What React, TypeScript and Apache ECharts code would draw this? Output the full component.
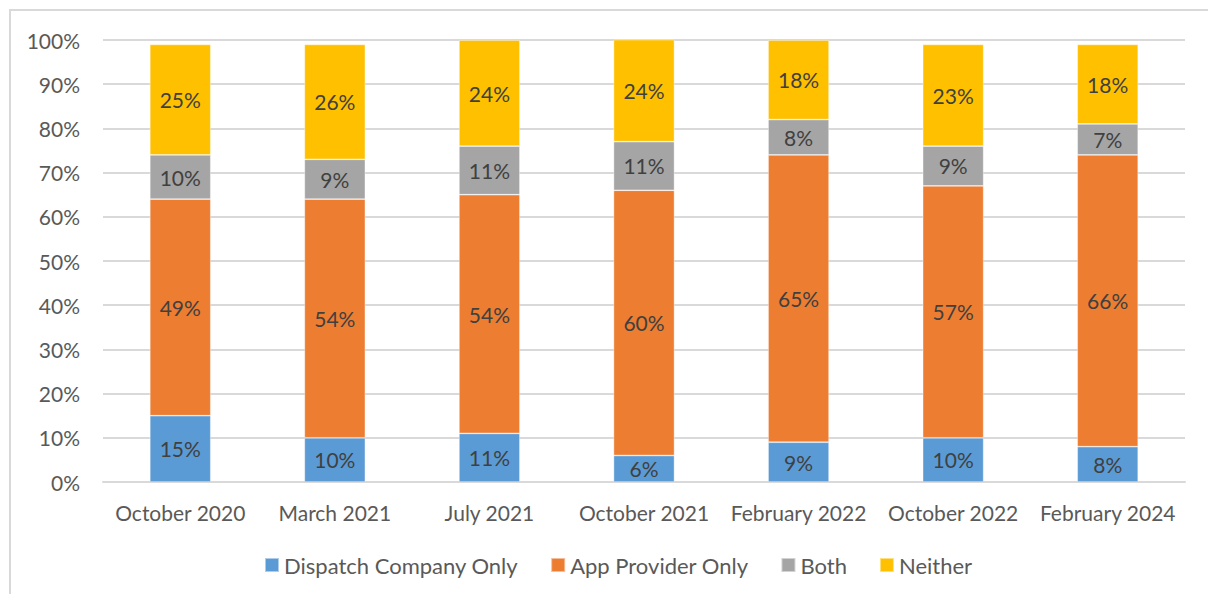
import React, { useEffect, useRef } from "react";
import * as echarts from "echarts";

const categories = ["October 2020", "March 2021", "July 2021", "October 2021", "February 2022", "October 2022", "February 2024"];
const dispatchOnly = [15, 10, 11, 6, 9, 10, 8];
const appOnly = [49, 54, 54, 60, 65, 57, 66];
const both = [10, 9, 11, 11, 8, 9, 7];
const neither = [25, 26, 24, 24, 18, 23, 18];
const seriesNames = ["Dispatch Company Only", "App Provider Only", "Both", "Neither"];
const colors = ["#5B9BD5", "#ED7D31", "#A5A5A5", "#FFC000"];
const yTicks = [0, 10, 20, 30, 40, 50, 60, 70, 80, 90, 100];

const FONT = "Lato";

export default function App() {
  const ref = useRef<HTMLDivElement>(null);
  useEffect(() => {
    if (!ref.current) return;
    const chart = echarts.init(ref.current, null, { renderer: "svg" });
    const data = [dispatchOnly, appOnly, both, neither];
    chart.setOption({
      animation: false,
      backgroundColor: "#ffffff",
      textStyle: { fontFamily: FONT },
      graphic: [
        {
          type: "rect",
          shape: { x: 10, y: 10, width: 1400, height: 800 },
          style: { fill: "none", stroke: "#d9d9d9", lineWidth: 2 },
          silent: true,
        },
      ],
      grid: { left: 103, right: 23, top: 40, bottom: 112 },
      legend: {
        left: 259,
        top: 549,
        itemWidth: 14,
        itemHeight: 14,
        itemGap: 32,
        icon: "rect",
        textStyle: { fontFamily: FONT, fontSize: 22, color: "#595959" },
        data: seriesNames,
      },
      xAxis: {
        type: "category",
        data: categories,
        axisLine: { lineStyle: { color: "#d9d9d9", width: 2 } },
        axisTick: { show: false },
        axisLabel: { fontFamily: FONT, fontSize: 21, color: "#595959", margin: 20, interval: 0 },
      },
      yAxis: {
        type: "value",
        min: 0,
        max: 100,
        interval: 10,
        axisLine: { show: false },
        axisTick: { show: false },
        splitLine: { lineStyle: { color: "#d9d9d9", width: 2 } },
        axisLabel: {
          fontFamily: FONT,
          fontSize: 21,
          color: "#595959",
          margin: 23,
          formatter: (v: number) => (yTicks.includes(v) ? v + "%" : ""),
        },
      },
      series: seriesNames.map((name, i) => ({
        name,
        type: "bar",
        stack: "total",
        barWidth: 61,
        clip: true,
        data: data[i],
        itemStyle: { color: colors[i], borderColor: "rgba(255,255,255,0.5)", borderWidth: 0.75 },
        label: {
          show: true,
          position: "inside",
          fontFamily: FONT,
          fontSize: 21,
          color: "#404040",
          formatter: (p: any) => p.value + "%",
        },
      })),
    });
    return () => chart.dispose();
  }, []);
  return <div ref={ref} style={{ position: "absolute", left: 0, top: 0, width: 1208, height: 594 }} />;
}
